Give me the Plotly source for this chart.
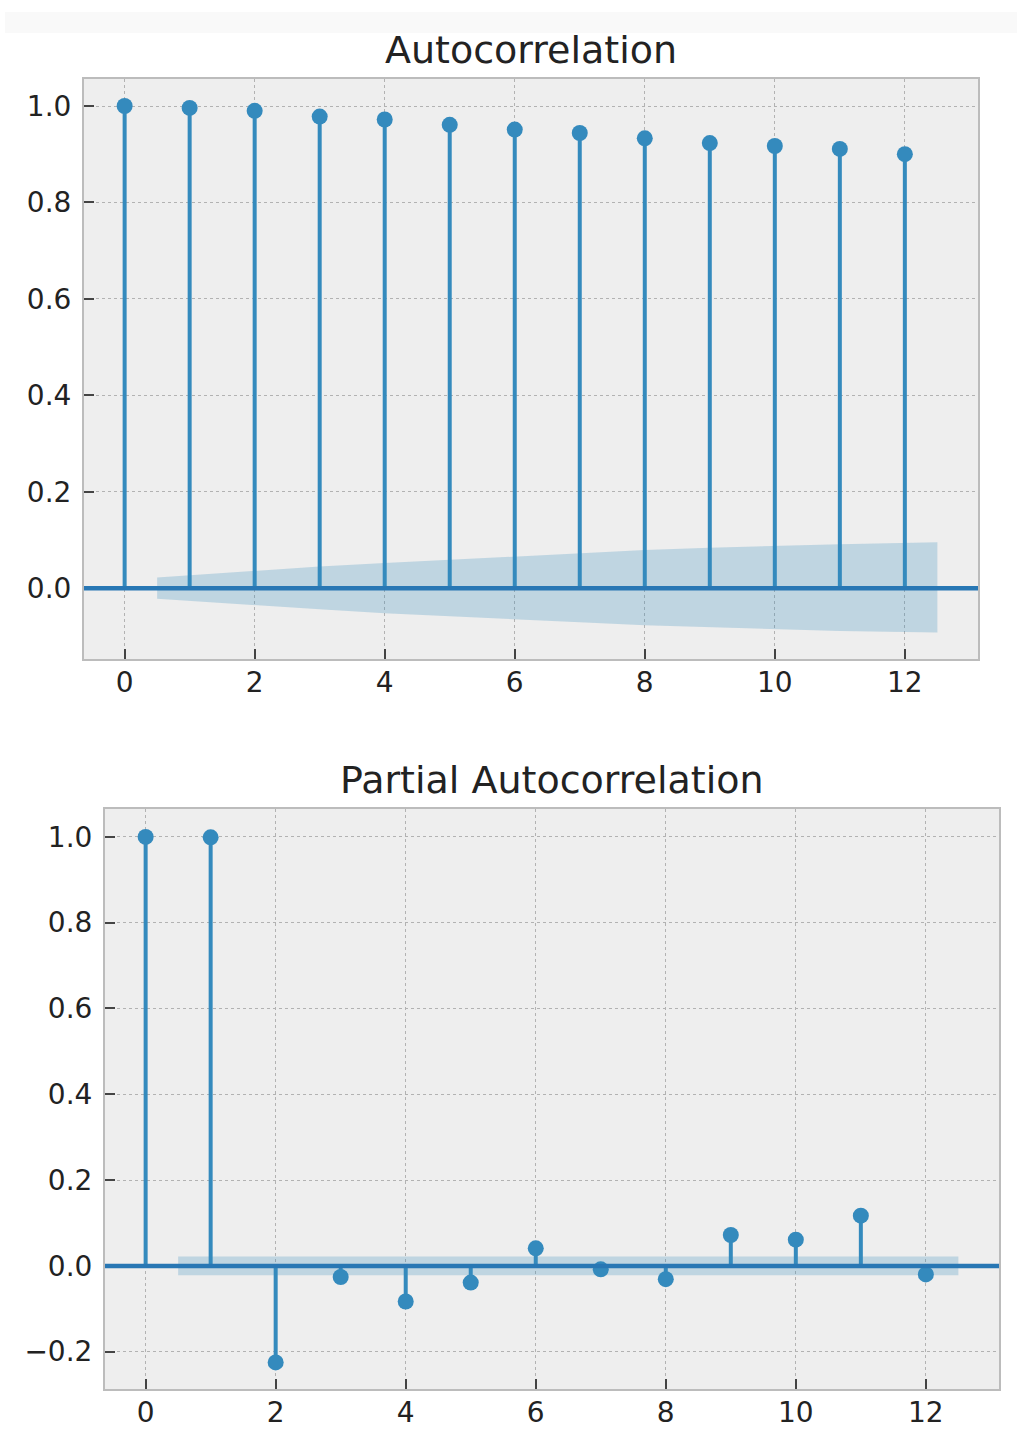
import plotly.graph_objects as go

# ---- data ----
lags = list(range(13))
acf_values = [1.0, 0.996, 0.990, 0.978, 0.972, 0.961, 0.951, 0.944, 0.933, 0.923, 0.917, 0.911, 0.900]
acf_conf_upper = [0.022, 0.036, 0.045, 0.052, 0.059, 0.066, 0.072, 0.079, 0.084, 0.088, 0.091, 0.095]
acf_conf_lower = [-0.022, -0.035, -0.044, -0.052, -0.058, -0.065, -0.071, -0.077, -0.082, -0.085, -0.089, -0.092]

pacf_values = [1.0, 0.999, -0.225, -0.026, -0.083, -0.039, 0.041, -0.008, -0.031, 0.072, 0.061, 0.117, -0.020]
pacf_conf_upper = [0.022] * 12
pacf_conf_lower = [-0.022] * 12

titles = ["Autocorrelation", "Partial Autocorrelation"]
x_ticks = [0, 2, 4, 6, 8, 10, 12]
acf_y_ticks = [0.0, 0.2, 0.4, 0.6, 0.8, 1.0]
pacf_y_ticks = [-0.2, 0.0, 0.2, 0.4, 0.6, 0.8, 1.0]

# ---- style ----
W, H = 1017, 1441
C_MARK = "#348ABD"
C_ZERO = "#2877b4"
C_BAND = "rgba(52,138,189,0.25)"
FONT = "DejaVu Sans"

fig = go.Figure()


def band_x():
    xs = [float(v) for v in lags[1:]]
    xs[0] -= 0.5
    xs[-1] += 0.5
    return xs


def add_panel(idx, values, up, lo):
    xa = "x" if idx == 1 else f"x{idx}"
    ya = "y" if idx == 1 else f"y{idx}"
    bx = band_x()
    fig.add_trace(go.Scatter(x=bx + bx[::-1], y=up + lo[::-1], fill="toself",
                             fillcolor=C_BAND, line=dict(width=0), mode="lines",
                             hoverinfo="skip", showlegend=False, xaxis=xa, yaxis=ya))
    sx, sy = [], []
    for k, v in zip(lags, values):
        sx += [k, k, None]
        sy += [0, v, None]
    fig.add_trace(go.Scatter(x=sx, y=sy, mode="lines", line=dict(color=C_MARK, width=4),
                             hoverinfo="skip", showlegend=False, xaxis=xa, yaxis=ya))
    fig.add_trace(go.Scatter(x=lags, y=values, mode="markers",
                             marker=dict(color=C_MARK, size=16),
                             showlegend=False, xaxis=xa, yaxis=ya))
    fig.add_shape(type="line", xref=f"{xa} domain", yref=ya, x0=0, x1=1, y0=0, y1=0,
                  line=dict(color=C_ZERO, width=4.5), layer="above")


add_panel(1, acf_values, acf_conf_upper, acf_conf_lower)
add_panel(2, pacf_values, pacf_conf_upper, pacf_conf_lower)


def px_dom_x(a, b):
    return [a / W, b / W]


def px_dom_y(top, bottom):
    return [1 - bottom / H, 1 - top / H]


axis_common = dict(
    showgrid=True, gridcolor="#b2b2b2", gridwidth=1, griddash="3px,3px",
    zeroline=False, showline=True, linecolor="#bcbcbc", linewidth=2, mirror=True,
    ticks="inside", ticklen=10, tickwidth=2, tickcolor="#444444",
    tickfont=dict(family=FONT, size=28, color="#222222"),
)

x_range = [-0.625, 13.125]

fig.update_layout(
    width=W, height=H,
    margin=dict(l=0, r=0, t=0, b=0),
    paper_bgcolor="white", plot_bgcolor="#EEEEEE",
    showlegend=False,
    xaxis=dict(domain=px_dom_x(84, 978), range=x_range, tickvals=x_ticks,
               anchor="y", ticklabelstandoff=-3, **axis_common),
    yaxis=dict(domain=px_dom_y(79, 659), range=[-0.147, 1.056], tickvals=acf_y_ticks,
               tickformat=".1f", anchor="x", ticklabelstandoff=5, **axis_common),
    xaxis2=dict(domain=px_dom_x(105, 999), range=x_range, tickvals=x_ticks,
                anchor="y2", ticklabelstandoff=-3, **axis_common),
    yaxis2=dict(domain=px_dom_y(809, 1389), range=[-0.287, 1.065], tickvals=pacf_y_ticks,
                tickformat=".1f", anchor="x2", ticklabelstandoff=5, **axis_common),
)

fig.add_shape(type="rect", xref="paper", yref="paper", x0=5 / W, x1=1, y0=1 - 33 / H, y1=1 - 12 / H,
              fillcolor="#f9f9f9", line=dict(width=0), layer="below")

for i, t in enumerate(titles):
    xa = "x" if i == 0 else "x2"
    ya = "y" if i == 0 else "y2"
    fig.add_annotation(text=t, xref=f"{xa} domain", yref=f"{ya} domain", x=0.5, y=1,
                       xanchor="center", yanchor="bottom", yshift=5, showarrow=False,
                       font=dict(family=FONT, size=38, color="#222222"))

fig.write_html("out.html", config={"displayModeBar": False},
               post_script="document.body.style.margin='0';document.body.style.overflow='hidden';")
